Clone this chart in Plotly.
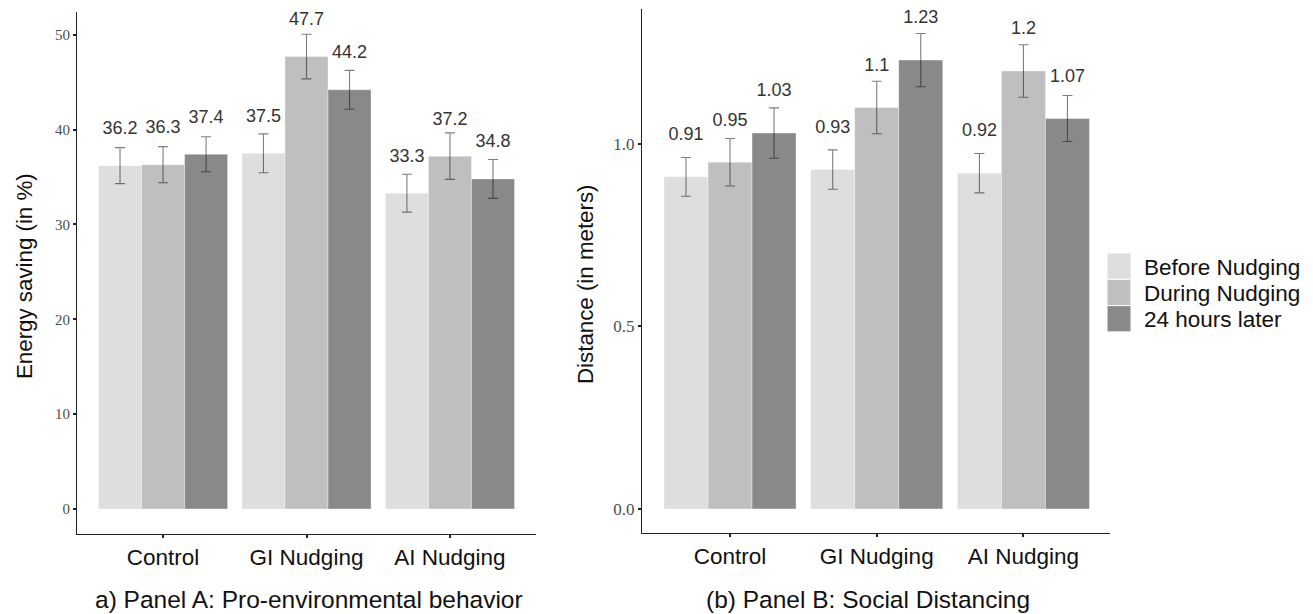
import plotly.graph_objects as go

# page has an 8px body margin: figure is drawn from (8, 8) in the window
OFF = 8
W, H = 1313 - OFF, 614 - OFF

groups = ["Control", "GI Nudging", "AI Nudging"]
phases = ["Before Nudging", "During Nudging", "24 hours later"]
phase_colors = ["#dedede", "#bebfbe", "#898989"]

energy_before = [36.2, 37.5, 33.3]
energy_during = [36.3, 47.7, 37.2]
energy_later = [37.4, 44.2, 34.8]
energy_err_before = [1.9, 2.05, 2.0]
energy_err_during = [1.9, 2.35, 2.45]
energy_err_later = [1.85, 2.05, 2.05]

dist_before = [0.91, 0.93, 0.92]
dist_during = [0.95, 1.10, 1.20]
dist_later = [1.03, 1.23, 1.07]
dist_err_before = [0.053, 0.054, 0.054]
dist_err_during = [0.065, 0.072, 0.072]
dist_err_later = [0.069, 0.073, 0.063]

energy_ticks = [0, 10, 20, 30, 40, 50]
dist_ticks = [0.0, 0.5, 1.0]

captions = ["a) Panel A: Pro-environmental behavior", "(b) Panel B: Social Distancing"]
y_titles = ["Energy saving (in %)", "Distance (in meters)"]

SANS = "Liberation Sans, Arial, Helvetica, sans-serif"
SERIF = "Liberation Serif, Times New Roman, serif"


def px(x):
    return (x - OFF) / W


def py(y):
    return 1 - (y - OFF) / H


fig = go.Figure()

panels = [
    ("x", "y", [energy_before, energy_during, energy_later],
     [energy_err_before, energy_err_during, energy_err_later], 3.8),
    ("x2", "y2", [dist_before, dist_during, dist_later],
     [dist_err_before, dist_err_during, dist_err_later], 0.113),
]

for xa, ya, series, errs, off in panels:
    for i, (vals, err) in enumerate(zip(series, errs)):
        fig.add_trace(go.Bar(
            x=groups, y=vals, name=phases[i], xaxis=xa, yaxis=ya,
            offsetgroup=str(i), showlegend=False,
            marker=dict(color=phase_colors[i],
                        line=dict(color="rgba(255,255,255,0.35)", width=1)),
            error_y=dict(type="data", array=err, color="rgba(20,20,20,0.55)",
                         thickness=1.1, width=5),
            hoverinfo="skip",
        ))
    for i, vals in enumerate(series):
        fig.add_trace(go.Scatter(
            x=groups, y=[v + off for v in vals], xaxis=xa, yaxis=ya,
            mode="text", text=[f"{v:g}" for v in vals],
            textposition="middle center", offsetgroup=str(i),
            textfont=dict(family=SANS, size=18, color="#333333"),
            showlegend=False, cliponaxis=False, hoverinfo="skip",
        ))

axis_common = dict(showline=True, linecolor="#222222", linewidth=1,
                   showgrid=False, zeroline=False, ticks="outside",
                   ticklen=3, tickwidth=1.5, tickcolor="#222222")

fig.update_layout(
    width=W, height=H,
    margin=dict(l=0, r=0, t=0, b=0),
    paper_bgcolor="white", plot_bgcolor="white",
    barmode="group", bargap=0.1, bargroupgap=0,
    scattermode="group", scattergap=0.1,
    showlegend=False,
    xaxis=dict(domain=[px(77), px(536)], range=[-0.6, 2.6], anchor="y",
               tickfont=dict(family=SANS, size=22.5, color="#111111"),
               **axis_common),
    yaxis=dict(domain=[py(534), py(12)], range=[-2.64, 52.4], anchor="x",
               tickvals=energy_ticks,
               tickfont=dict(family=SERIF, size=15, color="#4d4d4d"),
               **axis_common),
    xaxis2=dict(domain=[px(642), px(1110)], range=[-0.6, 2.59], anchor="y2",
                tickfont=dict(family=SANS, size=22.5, color="#111111"),
                **axis_common),
    yaxis2=dict(domain=[py(533), py(9)], range=[-0.066, 1.37], anchor="x2",
                tickvals=dist_ticks, tickformat=".1f",
                tickfont=dict(family=SERIF, size=17, color="#4d4d4d"),
                **axis_common),
)

annotations = []
# y-axis titles
for title, xc, yc in zip(y_titles, [24, 585], [276, 284]):
    annotations.append(dict(text=title, x=px(xc), y=py(yc), xref="paper", yref="paper",
                            textangle=-90, showarrow=False, xanchor="center", yanchor="middle",
                            font=dict(family=SANS, size=22.3, color="#111111")))
# captions
for cap, xc, yc in zip(captions, [309, 868], [599, 599]):
    annotations.append(dict(text=cap, x=px(xc), y=py(yc), xref="paper", yref="paper",
                            showarrow=False, xanchor="center", yanchor="middle",
                            font=dict(family=SANS, size=24.5, color="#111111")))

# legend (drawn manually to match large keys)
shapes = []
key_top = 253
key_h = 26.3
for i, (name, col) in enumerate(zip(phases, phase_colors)):
    y0 = key_top + i * key_h
    shapes.append(dict(type="rect", xref="paper", yref="paper",
                       x0=px(1107), x1=px(1131), y0=py(y0 + key_h), y1=py(y0),
                       fillcolor=col, line=dict(color="white", width=1)))
    annotations.append(dict(text=name, x=px(1142), y=py(y0 + key_h / 2 + 1),
                            xref="paper", yref="paper", showarrow=False,
                            xanchor="left", yanchor="middle",
                            font=dict(family=SANS, size=22.5, color="#111111")))

fig.update_layout(annotations=annotations, shapes=shapes)

fig.write_html("out.html")
